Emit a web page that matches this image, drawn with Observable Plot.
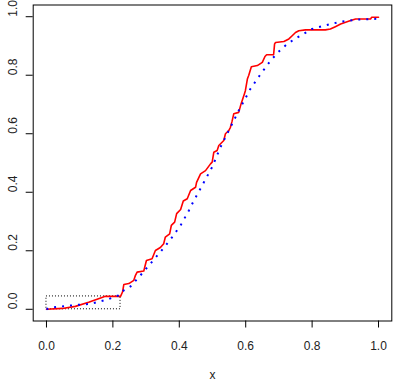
<!DOCTYPE html>
<html>
<head>
<meta charset="utf-8">
<script src="https://cdn.jsdelivr.net/npm/d3@7"></script>
<script src="https://cdn.jsdelivr.net/npm/@observablehq/plot@0.6"></script>
<style>
  html, body { margin: 0; padding: 0; background: #fff; }
  #chart svg { display: block; }
</style>
</head>
<body>
<div id="chart"></div>
<script>
const redX = [0, 0.048, 0.087, 0.127, 0.163, 0.175, 0.223, 0.229, 0.233, 0.248, 0.263, 0.268, 0.273, 0.293, 0.301, 0.318, 0.328, 0.343, 0.353, 0.358, 0.371, 0.376, 0.386, 0.392, 0.404, 0.412, 0.424, 0.434, 0.449, 0.452, 0.464, 0.479, 0.494, 0.499, 0.504, 0.514, 0.519, 0.534, 0.539, 0.549, 0.554, 0.559, 0.564, 0.579, 0.586, 0.596, 0.599, 0.605, 0.609, 0.617, 0.635, 0.650, 0.658, 0.663, 0.684, 0.687, 0.690, 0.715, 0.730, 0.740, 0.750, 0.760, 0.780, 0.840, 0.855, 0.870, 0.886, 0.901, 0.914, 0.931, 0.976, 0.979, 1.0];
const redY = [0, 0.003, 0.010, 0.024, 0.039, 0.044, 0.044, 0.059, 0.085, 0.088, 0.099, 0.116, 0.127, 0.131, 0.167, 0.173, 0.201, 0.211, 0.224, 0.247, 0.258, 0.287, 0.298, 0.327, 0.341, 0.370, 0.378, 0.406, 0.417, 0.434, 0.463, 0.474, 0.497, 0.503, 0.537, 0.543, 0.560, 0.577, 0.600, 0.611, 0.622, 0.643, 0.668, 0.673, 0.702, 0.736, 0.747, 0.787, 0.799, 0.829, 0.833, 0.844, 0.864, 0.870, 0.870, 0.907, 0.912, 0.915, 0.924, 0.935, 0.946, 0.952, 0.955, 0.955, 0.958, 0.966, 0.975, 0.981, 0.986, 0.992, 0.992, 0.998, 0.998];

// Blue dotted (theoretical) curve
const blueX = [0, 0.012, 0.082, 0.133, 0.183, 0.218, 0.233, 0.253, 0.283, 0.313, 0.343, 0.373, 0.404, 0.429, 0.444, 0.474, 0.499, 0.524, 0.554, 0.579, 0.614, 0.645, 0.675, 0.697, 0.725, 0.755, 0.800, 0.835, 0.886, 0.936, 0.996, 1.0];
const blueY = [0, 0.006, 0.014, 0.019, 0.033, 0.048, 0.065, 0.078, 0.116, 0.156, 0.196, 0.238, 0.287, 0.338, 0.372, 0.434, 0.486, 0.554, 0.622, 0.679, 0.753, 0.804, 0.850, 0.878, 0.907, 0.929, 0.958, 0.969, 0.983, 0.990, 0.993, 0.995];

// Dotted box in the lower-left corner
const boxX = [0, 0.223];
const boxY = [0, 0.044];

// Tick values
const xTicks = [0, 0.2, 0.4, 0.6, 0.8, 1.0];
const yTicks = [0, 0.2, 0.4, 0.6, 0.8, 1.0];
const xLabel = "x";

const red = redX.map((x, i) => ({x, y: redY[i]}));
const blue = blueX.map((x, i) => ({x, y: blueY[i]}));
const box = [{x1: boxX[0], x2: boxX[1], y1: boxY[0], y2: boxY[1]}];

const font = "'Liberation Sans', Arial, Helvetica, sans-serif";

const chart = Plot.plot({
  width: 394,
  height: 382,
  marginLeft: 32.7,
  marginRight: 2.7,
  marginTop: 4.5,
  marginBottom: 61.5,
  style: {background: "#fff", fontFamily: font, fontSize: "12px", color: "#222", overflow: "visible"},
  x: {domain: [-0.04, 1.04]},
  y: {domain: [-0.04, 1.04]},
  marks: [
    Plot.rect(box, {x1: "x1", x2: "x2", y1: "y1", y2: "y2", fill: "none", stroke: "black", strokeWidth: 1, strokeDasharray: "1,2"}),
    Plot.line(red, {x: "x", y: "y", stroke: "red", strokeWidth: 1.6}),
    Plot.line(blue, {x: "x", y: "y", stroke: "blue", strokeWidth: 2, strokeDasharray: "2,6", strokeLinecap: "butt"}),
    Plot.axisX({ticks: xTicks, tickSize: 7, tickPadding: 13, tickFormat: d3.format(".1f"), label: null, fontSize: 12, stroke: "black", fill: "#222"}),
    Plot.axisY({ticks: yTicks, tickSize: 7, tickFormat: () => "", label: null, stroke: "black"}),
    Plot.text(yTicks, {y: d => d, text: d => d3.format(".1f")(d), frameAnchor: "left", dx: -20, rotate: -90, fontSize: 12, fill: "#222"}),
    Plot.text([xLabel], {text: d => d, frameAnchor: "bottom", lineAnchor: "bottom", dy: 57.5, fontSize: 12, fill: "#222"}),
    Plot.frame({stroke: "black", strokeWidth: 1})
  ]
});
document.getElementById("chart").appendChild(chart);
</script>
</body>
</html>
